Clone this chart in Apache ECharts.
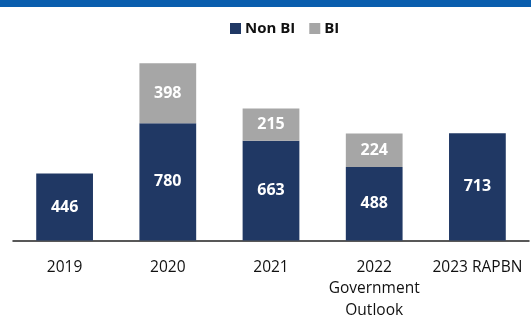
<!DOCTYPE html>
<html>
<head>
<meta charset="utf-8">
<script src="https://cdn.jsdelivr.net/npm/echarts@6/dist/echarts.min.js"></script>
<style>
  html, body { margin: 0; padding: 0; background: #fff; }
  #chart { width: 531px; height: 317px; }
</style>
</head>
<body>
<div id="chart"></div>
<script>
// data
const categories = ["2019", "2020", "2021", "2022\nGovernment\nOutlook", "2023 RAPBN"];
const nonBI = [446, 780, 663, 488, 713];
const bi = [null, 398, 215, 224, null];

const chart = echarts.init(document.getElementById("chart"));

const labelStyle = {
  show: true,
  position: "inside",
  color: "#fff",
  fontWeight: "bold",
  fontSize: 16,
  fontFamily: "Open Sans",
};

chart.setOption({
  animation: false,
  graphic: [
    {
      type: "rect",
      left: 0,
      top: 0,
      shape: { width: 531, height: 7 },
      style: { fill: "#0A5EAE" },
    },
  ],
  legend: {
    top: 16,
    left: 225,
    itemWidth: 11,
    itemHeight: 11,
    itemGap: 14,
    icon: "rect",
    textStyle: {
      fontFamily: "Open Sans",
      fontWeight: "bold",
      fontSize: 15,
      color: "#111",
      padding: [0, 0, 0, -1],
    },
    data: ["Non BI", "BI"],
  },
  grid: {
    left: 13,
    right: 2,
    top: 60,
    bottom: 76.5,
    outerBoundsMode: "none",
    containLabel: false,
  },
  xAxis: {
    type: "category",
    data: categories,
    axisLine: { lineStyle: { color: "#222", width: 1.5 } },
    axisTick: { show: false },
    axisLabel: {
      interval: 0,
      margin: 16,
      fontFamily: "Open Sans",
      fontSize: 15.5,
      color: "#111",
      lineHeight: 21.5,
    },
  },
  yAxis: {
    type: "value",
    min: 0,
    max: 1200,
    show: false,
    splitLine: { show: false },
  },
  series: [
    {
      name: "Non BI",
      type: "bar",
      stack: "total",
      barWidth: "55%",
      data: nonBI,
      itemStyle: { color: "#203864" },
      label: labelStyle,
    },
    {
      name: "BI",
      type: "bar",
      stack: "total",
      data: bi,
      itemStyle: { color: "#A6A6A6" },
      label: labelStyle,
    },
  ],
});
</script>
</body>
</html>
